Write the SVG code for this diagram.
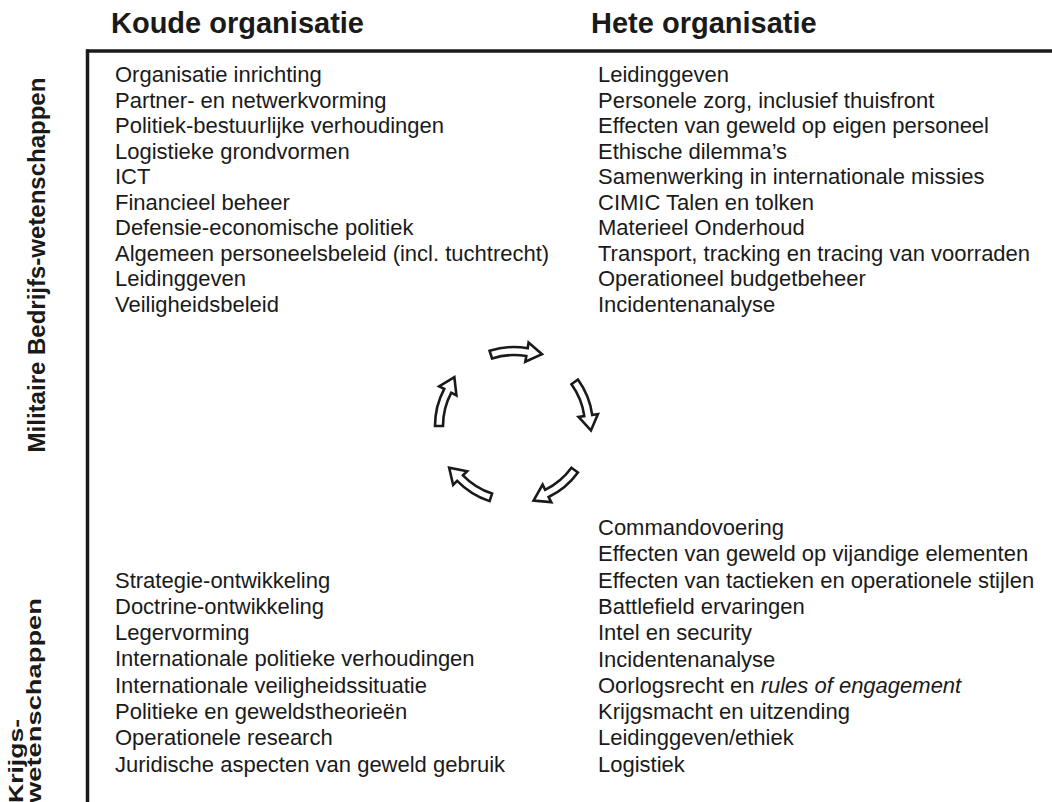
<svg xmlns="http://www.w3.org/2000/svg" xmlns:xlink="http://www.w3.org/1999/xlink" width="1052" height="802" viewBox="0 0 1052 802">
<style>
  .hdr { font-family: "Liberation Sans", Arial, sans-serif; font-weight: bold; font-size: 29px; fill: #1a1a1a; }
  .side { font-family: "Liberation Sans", Arial, sans-serif; font-weight: bold; font-size: 24px; fill: #1a1a1a; }
  .side2 { font-family: "Liberation Sans", Arial, sans-serif; font-weight: bold; font-size: 21px; fill: #1a1a1a; }
  .item { font-family: "Liberation Sans", Arial, sans-serif; font-size: 22px; fill: #1a1a1a; }
  .axis { stroke: #1a1a1a; stroke-width: 3.5; fill: none; }
  .arrow { fill: #ffffff; stroke: #1a1a1a; stroke-width: 2.6; stroke-linejoin: miter; }
</style>
<defs>
  <path id="arr" class="arrow" d="M -24.41 -75.14 A 79 79 0 0 1 13.72 -77.80 L 14.58 -83.5 L 28 -71.8 L 11.3 -64.2 L 12.33 -69.92 A 71 71 0 0 0 -21.94 -67.53 Z"/>
</defs>
<rect width="1052" height="802" fill="#ffffff"/>

<g id="headers">
  <text class="hdr" x="111" y="33">Koude organisatie</text>
  <text class="hdr" x="591" y="33">Hete organisatie</text>
</g>

<g id="axes">
  <line class="axis" x1="86" y1="51" x2="1052" y2="51"/>
  <line class="axis" x1="87.5" y1="49.5" x2="87.5" y2="802"/>
</g>

<g id="side-labels">
  <text class="side" text-anchor="middle" transform="translate(45,265) rotate(-90)">Militaire Bedrijfs-wetenschappen</text>
  <text class="side2" transform="translate(23,803) rotate(-90)" textLength="84" lengthAdjust="spacingAndGlyphs">Krijgs-</text>
  <text class="side2" transform="translate(41,803) rotate(-90)" textLength="205" lengthAdjust="spacingAndGlyphs">wetenschappen</text>
</g>

<g id="koud-bedrijf" class="item">
  <text x="115" y="82">Organisatie inrichting</text>
  <text x="115" y="107.5">Partner- en netwerkvorming</text>
  <text x="115" y="133">Politiek-bestuurlijke verhoudingen</text>
  <text x="115" y="158.5">Logistieke grondvormen</text>
  <text x="115" y="184">ICT</text>
  <text x="115" y="209.5">Financieel beheer</text>
  <text x="115" y="235">Defensie-economische politiek</text>
  <text x="115" y="260.5">Algemeen personeelsbeleid (incl. tuchtrecht)</text>
  <text x="115" y="286">Leidinggeven</text>
  <text x="115" y="311.5">Veiligheidsbeleid</text>
</g>

<g id="heet-bedrijf" class="item">
  <text x="598" y="82">Leidinggeven</text>
  <text x="598" y="107.5">Personele zorg, inclusief thuisfront</text>
  <text x="598" y="133">Effecten van geweld op eigen personeel</text>
  <text x="598" y="158.5">Ethische dilemma’s</text>
  <text x="598" y="184">Samenwerking in internationale missies</text>
  <text x="598" y="209.5">CIMIC Talen en tolken</text>
  <text x="598" y="235">Materieel Onderhoud</text>
  <text x="598" y="260.5">Transport, tracking en tracing van voorraden</text>
  <text x="598" y="286">Operationeel budgetbeheer</text>
  <text x="598" y="311.5">Incidentenanalyse</text>
</g>

<g id="koud-krijg" class="item">
  <text x="115" y="587.5">Strategie-ontwikkeling</text>
  <text x="115" y="613.8">Doctrine-ontwikkeling</text>
  <text x="115" y="640.1">Legervorming</text>
  <text x="115" y="666.4">Internationale politieke verhoudingen</text>
  <text x="115" y="692.7">Internationale veiligheidssituatie</text>
  <text x="115" y="719">Politieke en geweldstheorieën</text>
  <text x="115" y="745.3">Operationele research</text>
  <text x="115" y="771.6">Juridische aspecten van geweld gebruik</text>
</g>

<g id="heet-krijg" class="item">
  <text x="598" y="535">Commandovoering</text>
  <text x="598" y="561.3">Effecten van geweld op vijandige elementen</text>
  <text x="598" y="587.6">Effecten van tactieken en operationele stijlen</text>
  <text x="598" y="613.9">Battlefield ervaringen</text>
  <text x="598" y="640.2">Intel en security</text>
  <text x="598" y="666.5">Incidentenanalyse</text>
  <text x="598" y="692.8">Oorlogsrecht en <tspan font-style="italic">rules of engagement</tspan></text>
  <text x="598" y="719.1">Krijgsmacht en uitzending</text>
  <text x="598" y="745.4">Leidinggeven/ethiek</text>
  <text x="598" y="771.7">Logistiek</text>
</g>

<g id="connectors" transform="translate(514,426)">
  <use xlink:href="#arr" href="#arr"/>
  <use xlink:href="#arr" href="#arr" transform="rotate(72)"/>
  <use xlink:href="#arr" href="#arr" transform="rotate(144)"/>
  <use xlink:href="#arr" href="#arr" transform="rotate(216)"/>
  <use xlink:href="#arr" href="#arr" transform="rotate(288)"/>
</g>
</svg>
